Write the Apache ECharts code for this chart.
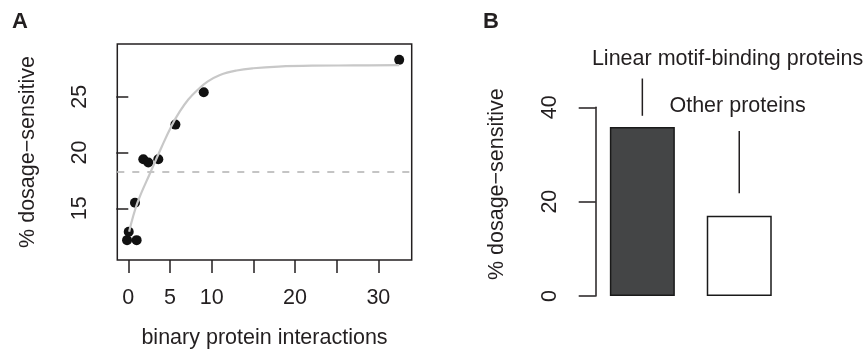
<!DOCTYPE html>
<html>
<head>
<meta charset="utf-8">
<script src="https://cdn.jsdelivr.net/npm/echarts@6/dist/echarts.min.js"></script>
<style>
html,body{margin:0;padding:0;background:#fff;}
#c{width:863px;height:356px;}
</style>
</head>
<body>
<div id="c"></div>
<script>
// ---- Panel A data ----
const pointX = [-0.15, 0.05, 1.0, 0.8, 1.8, 2.4, 3.6, 5.65, 9.05, 32.5];
const pointY = [12.15, 12.9, 12.15, 15.5, 19.4, 19.1, 19.4, 22.5, 25.4, 28.3];
const curveX = [0.1, 1.1, 2.7, 4.0, 5.2, 6.2, 7.2, 8.3, 9.5, 11, 13, 15, 18, 22, 27, 32.5];
const curveY = [12.9, 15.5, 18.3, 20.5, 22.4, 23.7, 24.75, 25.6, 26.35, 26.95, 27.35, 27.55, 27.7, 27.78, 27.8, 27.82];
const baselineY = 18.3;
const xTickValues = [0, 5, 10, 15, 20, 25, 30];
const xLabelValues = [0, 5, 10, 20, 30];
const yTickValuesA = [15, 20, 25];
// ---- Panel B data ----
const barCategories = ['Linear motif-binding proteins', 'Other proteins'];
const barValues = [35.8, 17.0];
const yTickValuesB = [0, 20, 40];
// annotation: [category index, line start, line end, label value]
const annotLine = [[0, 38.2, 46.1, 50.2], [1, 21.8, 35.0, 40.3]];

const FONT = "'Liberation Sans', Arial, Helvetica, sans-serif";
const INK = '#231f20';

const chart = echarts.init(document.getElementById('c'), null, {renderer: 'canvas'});
const option = {
  animation: false,
  backgroundColor: '#fff',
  textStyle: {fontFamily: FONT, color: INK},
  title: [
    {text: 'A', left: 7, top: 6, textStyle: {fontFamily: FONT, fontWeight: 'bold', fontSize: 22, color: INK}},
    {text: 'B', left: 478, top: 6, textStyle: {fontFamily: FONT, fontWeight: 'bold', fontSize: 22, color: INK}}
  ],
  grid: [
    {left: 117.3, top: 44, width: 294.4, height: 216, show: true, borderColor: INK, borderWidth: 1.5, backgroundColor: 'transparent'},
    {left: 593.9, top: 107.3, width: 193.8, height: 188.7, show: false}
  ],
  xAxis: [
    {
      gridIndex: 0, type: 'value', min: -1.32, max: 34.0,
      axisLine: {show: false},
      splitLine: {show: false},
      axisTick: {show: true, length: 13, customValues: xTickValues, lineStyle: {color: INK, width: 1.5}},
      axisLabel: {customValues: xLabelValues, margin: 27, fontSize: 21.5, fontFamily: FONT, color: INK},
      name: 'binary protein interactions', nameLocation: 'middle', nameGap: 67,
      nameTextStyle: {fontSize: 21.5, fontFamily: FONT, color: INK}
    },
    {
      gridIndex: 1, type: 'category', data: barCategories,
      axisLine: {show: false}, axisTick: {show: false}, axisLabel: {show: false}, splitLine: {show: false}
    }
  ],
  yAxis: [
    {
      gridIndex: 0, type: 'value', min: 10.37, max: 29.72,
      axisLine: {show: false},
      splitLine: {show: false},
      axisTick: {show: true, length: 12, customValues: yTickValuesA, lineStyle: {color: INK, width: 1.5}},
      axisLabel: {customValues: yTickValuesA, rotate: 90, margin: 26, fontSize: 21.5, fontFamily: FONT, color: INK},
      name: '% dosage\u2212sensitive', nameLocation: 'middle', nameGap: 78, nameRotate: 90,
      nameTextStyle: {fontSize: 21.5, fontFamily: FONT, color: INK}
    },
    {
      gridIndex: 1, type: 'value', min: 0, max: 40, offset: -1.8,
      axisLine: {show: true, lineStyle: {color: INK, width: 1.5}},
      splitLine: {show: false},
      axisTick: {show: true, length: 17, customValues: yTickValuesB, lineStyle: {color: INK, width: 1.5}},
      axisLabel: {customValues: yTickValuesB, rotate: 90, margin: 35, fontSize: 21.5, fontFamily: FONT, color: INK},
      name: '% dosage\u2212sensitive', nameLocation: 'middle', nameGap: 88, nameRotate: 90,
      nameTextStyle: {fontSize: 21.5, fontFamily: FONT, color: INK, padding: [0, 0, 0, 35]}
    }
  ],
  series: [
    {
      type: 'scatter', xAxisIndex: 0, yAxisIndex: 0,
      data: pointX.map((x, i) => [x, pointY[i]]),
      symbol: 'circle', symbolSize: 10,
      itemStyle: {color: '#111111', opacity: 1},
      z: 2
    },
    {
      type: 'line', xAxisIndex: 0, yAxisIndex: 0,
      data: curveX.map((x, i) => [x, curveY[i]]),
      smooth: 0.4, showSymbol: false, symbol: 'none',
      lineStyle: {color: '#c8c8c8', width: 2.2},
      markLine: {
        silent: true, symbol: ['none', 'none'], label: {show: false},
        lineStyle: {color: '#c4c4c4', width: 2, type: [7, 8]},
        data: [{yAxis: baselineY}]
      },
      z: 3
    },
    {
      type: 'bar', xAxisIndex: 1, yAxisIndex: 1,
      data: barValues.map((v, i) => ({
        value: v,
        itemStyle: {color: i === 0 ? '#444546' : '#ffffff', borderColor: '#1a1a1a', borderWidth: 1.5}
      })),
      barWidth: 65
    },
    {
      type: 'custom', xAxisIndex: 1, yAxisIndex: 1, clip: false,
      data: annotLine,
      renderItem: function (params, api) {
        const idx = api.value(0);
        const p1 = api.coord([idx, api.value(1)]);
        const p2 = api.coord([idx, api.value(2)]);
        const pl = api.coord([idx, api.value(3)]);
        const dx = params.dataIndex === 0 ? 85.2 : -1.7;
        return {
          type: 'group',
          children: [
            {type: 'line', shape: {x1: p1[0], y1: p1[1], x2: p2[0], y2: p2[1]}, style: {stroke: INK, lineWidth: 1.5}},
            {type: 'text', x: pl[0] + dx, y: pl[1],
             style: {text: barCategories[params.dataIndex], fill: INK, font: '21.5px ' + FONT, align: 'center', verticalAlign: 'middle'}}
          ]
        };
      }
    }
  ]
};
chart.setOption(option);
</script>
</body>
</html>
